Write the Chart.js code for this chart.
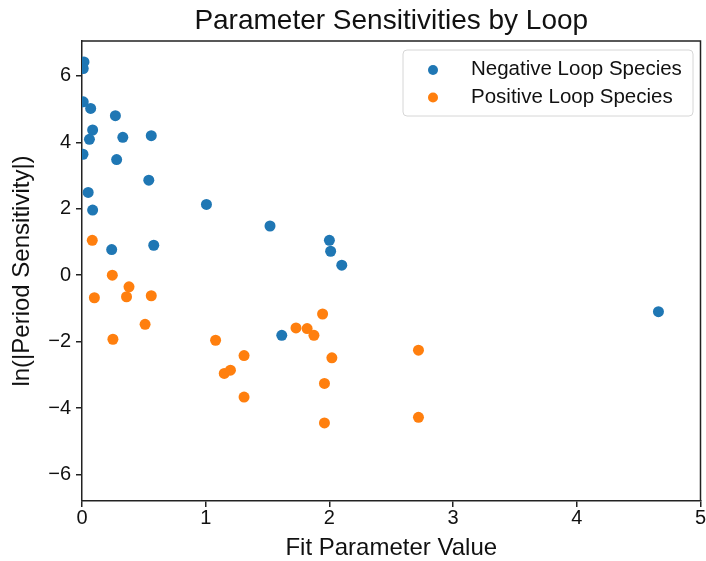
<!DOCTYPE html>
<html>
<head>
<meta charset="utf-8">
<script src="https://cdn.jsdelivr.net/npm/chart.js@4"></script>
<style>
html,body{margin:0;padding:0;background:#fff;}
#wrap{width:706px;height:561px;}
</style>
</head>
<body>
<div id="wrap"><canvas id="c" width="706" height="561"></canvas></div>
<script>
const chartTitle = "Parameter Sensitivities by Loop";
const xTitle = "Fit Parameter Value";
const yTitle = "ln(|Period Sensitivity|)";
const seriesLabels = ["Negative Loop Species", "Positive Loop Species"];
const xTicks = [0, 1, 2, 3, 4, 5];
const yTicks = [-6, -4, -2, 0, 2, 4, 6];

const negX = [0.016, 0.01, 0.01, 0.07, 0.27, 0.086, 0.06, 0.33, 0.56, 0.008, 0.28, 0.54, 0.05, 0.086, 1.006, 0.24, 0.58, 1.52, 2.0, 2.01, 2.1, 1.615, 4.66];
const negY = [6.42, 6.22, 5.22, 5.02, 4.80, 4.37, 4.09, 4.15, 4.20, 3.64, 3.48, 2.86, 2.49, 1.96, 2.13, 0.77, 0.90, 1.48, 1.05, 0.72, 0.30, -1.81, -1.10];
const posX = [0.083, 0.245, 0.10, 0.38, 0.36, 0.56, 0.51, 0.25, 1.08, 1.31, 1.15, 1.20, 1.31, 1.73, 1.82, 1.875, 1.945, 2.02, 1.96, 1.96, 2.72, 2.72];
const posY = [1.05, 0.00, -0.68, -0.35, -0.65, -0.62, -1.48, -1.93, -1.96, -2.42, -2.96, -2.86, -3.67, -1.59, -1.61, -1.81, -1.17, -2.49, -3.26, -4.45, -2.26, -4.28];

const BLUE = '#1f77b4', ORANGE = '#ff7f0e';
const FONT = "'Liberation Sans', Arial, sans-serif";
const AXIS = '#222';

const toPts = (xs, ys) => xs.map((x, i) => ({x: x, y: ys[i]}));
const fmt = v => (v < 0 ? '\u2212' + Math.abs(v) : String(v));

const boxPlugin = {
  id: 'boxAndExtras',
  afterDraw(chart) {
    const {ctx, chartArea: a} = chart;
    ctx.save();
    ctx.strokeStyle = AXIS;
    ctx.lineWidth = 1.5;
    ctx.beginPath();
    ctx.moveTo(a.left, a.top);
    ctx.lineTo(a.right, a.top);
    ctx.lineTo(a.right, a.bottom);
    ctx.stroke();
    ctx.fillStyle = '#111';
    ctx.font = "28px " + FONT;
    ctx.textAlign = 'center';
    ctx.textBaseline = 'alphabetic';
    ctx.fillText(chartTitle, (a.left + a.right) / 2, 29);
    const lx = 403, ly = 50, lw = 290, lh = 66, r = 4;
    ctx.beginPath();
    ctx.moveTo(lx + r, ly);
    ctx.arcTo(lx + lw, ly, lx + lw, ly + lh, r);
    ctx.arcTo(lx + lw, ly + lh, lx, ly + lh, r);
    ctx.arcTo(lx, ly + lh, lx, ly, r);
    ctx.arcTo(lx, ly, lx + lw, ly, r);
    ctx.closePath();
    ctx.fillStyle = 'rgba(255,255,255,0.8)';
    ctx.fill();
    ctx.strokeStyle = '#d6d6d6';
    ctx.lineWidth = 1;
    ctx.stroke();
    const rows = [70, 97.5];
    const textRows = [74.5, 103];
    chart.data.datasets.forEach((ds, i) => {
      ctx.beginPath();
      ctx.arc(433, rows[i], 5, 0, Math.PI * 2);
      ctx.fillStyle = ds.backgroundColor;
      ctx.fill();
      ctx.fillStyle = '#111';
      ctx.font = "20.5px " + FONT;
      ctx.textAlign = 'left';
      ctx.textBaseline = 'alphabetic';
      ctx.fillText(ds.label, 471, textRows[i]);
    });
    ctx.restore();
  }
};

new Chart(document.getElementById('c'), {
  type: 'scatter',
  data: {
    datasets: [
      {label: seriesLabels[0], data: toPts(negX, negY), backgroundColor: BLUE, borderColor: BLUE, borderWidth: 0, pointRadius: 5.5, pointHoverRadius: 5.5, order: 1},
      {label: seriesLabels[1], data: toPts(posX, posY), backgroundColor: ORANGE, borderColor: ORANGE, borderWidth: 0, pointRadius: 5.5, pointHoverRadius: 5.5, order: 0}
    ]
  },
  options: {
    responsive: false,
    animation: false,
    layout: {padding: {top: 41, right: 4, left: 0, bottom: 0}},
    plugins: {legend: {display: false}, title: {display: false}, tooltip: {enabled: false}},
    scales: {
      x: {
        type: 'linear', min: 0, max: 5,
        afterBuildTicks: s => { s.ticks = xTicks.map(v => ({value: v})); },
        afterFit: s => { s.height = 60; s.paddingLeft = 0; s.paddingRight = 0; },
        grid: {drawOnChartArea: false, drawTicks: true, tickLength: 6, color: AXIS, lineWidth: 1.5},
        border: {display: true, color: AXIS, width: 1.5},
        ticks: {color: '#111', font: {family: FONT, size: 20, lineHeight: 1}, padding: 1, maxRotation: 0, callback: v => fmt(v)},
        title: {display: true, text: xTitle, color: '#111', font: {family: FONT, size: 24, lineHeight: 1}, padding: {top: 0, bottom: 1}}
      },
      y: {
        type: 'linear', min: -6.8, max: 7.05,
        afterBuildTicks: s => { s.ticks = yTicks.map(v => ({value: v})); },
        afterFit: s => { s.width = 82; s.paddingTop = 0; s.paddingBottom = 0; },
        grid: {drawOnChartArea: false, drawTicks: true, tickLength: 6, color: AXIS, lineWidth: 1.5},
        border: {display: true, color: AXIS, width: 1.5},
        ticks: {color: '#111', font: {family: FONT, size: 20}, padding: 5, callback: v => fmt(v)},
        title: {display: true, text: yTitle, color: '#111', font: {family: FONT, size: 24, lineHeight: 1}, padding: {top: 10.5, bottom: 0}}
      }
    }
  },
  plugins: [boxPlugin]
});
</script>
</body>
</html>
